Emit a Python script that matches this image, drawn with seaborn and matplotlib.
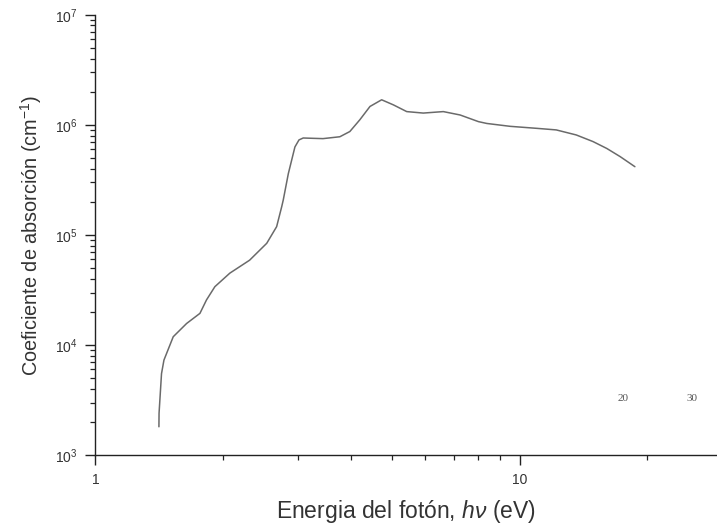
import matplotlib
matplotlib.use("Agg")
import matplotlib.pyplot as plt
import seaborn as sns
import pandas as pd
import numpy as np
from matplotlib.ticker import LogLocator, NullFormatter, FixedLocator, FixedFormatter

# Data: photon energy (eV) vs absorption coefficient (cm^-1)
energy = [1.412, 1.413, 1.432, 1.451, 1.526, 1.641, 1.764, 1.828, 1.913, 2.075,
          2.31, 2.535, 2.675, 2.75, 2.773, 2.85, 2.954, 3.02, 3.09, 3.25, 3.44, 3.77, 3.98,
          4.2, 4.44, 4.73, 5.04, 5.42, 5.93, 6.61, 7.24, 8.0, 8.37, 9.5, 10.98,
          12.2, 13.6, 14.9, 16.06, 17.26, 18.7]
alpha = [1.81e3, 2.4e3, 5.5e3, 7.3e3, 1.19e4, 1.57e4, 1.94e4, 2.57e4, 3.39e4, 4.5e4,
         5.9e4, 8.4e4, 1.19e5, 1.81e5, 2.08e5, 3.6e5, 6.3e5, 7.3e5, 7.6e5, 7.55e5, 7.5e5,
         7.8e5, 8.7e5, 1.11e6, 1.47e6, 1.69e6, 1.52e6, 1.32e6, 1.28e6, 1.32e6, 1.23e6,
         1.07e6, 1.03e6, 9.7e5, 9.3e5, 9.0e5, 8.1e5, 7.05e5, 6.1e5, 5.15e5, 4.17e5]

y_ticks = [1e3, 1e4, 1e5, 1e6, 1e7]
y_tick_labels = [r"$10^3$", r"$10^4$", r"$10^5$", r"$10^6$", r"$10^7$"]
x_ticks = [1, 10]
x_tick_labels = ["1", "10"]
stray_labels = ["20", "30"]
stray_x = [17.5, 25.5]

sns.set_theme(style="ticks")
plt.rcParams['font.family'] = ['Liberation Sans', 'DejaVu Sans']
plt.rcParams['mathtext.fontset'] = 'custom'
plt.rcParams['mathtext.rm'] = 'Liberation Sans'
plt.rcParams['mathtext.it'] = 'Liberation Sans:italic'

df = pd.DataFrame({"E": energy, "a": alpha})

fig = plt.figure(figsize=(7.17, 5.28), dpi=100)
ax = fig.add_axes([0.133, 0.138, 0.867, 0.834])

sns.lineplot(data=df, x="E", y="a", ax=ax, color="#6a6a6a", linewidth=1.1,
             sort=False, estimator=None)

ax.set_xscale("log")
ax.set_yscale("log")
ax.set_xlim(1, 29.2)
ax.set_ylim(1e3, 1e7)

sns.despine(ax=ax, top=True, right=True)
for sp in ["left", "bottom"]:
    ax.spines[sp].set_color("#222222")
    ax.spines[sp].set_linewidth(1.0)

ax.yaxis.set_major_locator(FixedLocator(y_ticks))
ax.yaxis.set_major_formatter(FixedFormatter(y_tick_labels))
ax.yaxis.set_minor_locator(LogLocator(base=10, subs=np.arange(2, 10)))
ax.yaxis.set_minor_formatter(NullFormatter())
ax.xaxis.set_major_locator(FixedLocator(x_ticks))
ax.xaxis.set_major_formatter(FixedFormatter(x_tick_labels))
ax.xaxis.set_minor_locator(LogLocator(base=10, subs=np.arange(2, 10)))
ax.xaxis.set_minor_formatter(NullFormatter())

ax.tick_params(axis="both", which="major", direction="out", length=7, width=1.0,
               color="#222222", labelsize=10, labelcolor="#333333", pad=6)
ax.tick_params(axis="both", which="minor", direction="out", length=3.5, width=0.9,
               color="#222222")

ax.set_xlabel(r"Energia del fotón, $h\nu$ (eV)", fontsize=16.5, color="#333333", labelpad=8)
ax.set_ylabel(r"Coeficiente de absorción (cm$^{-1}$)", fontsize=14.3, color="#333333",
              labelpad=8)

for lab, xv in zip(stray_labels, stray_x):
    ax.text(xv, 3.3e3, lab, family=["Liberation Serif", "DejaVu Serif"], fontsize=8,
            color="#555555", ha="center", va="center")

fig.savefig("out.png", dpi=100)
